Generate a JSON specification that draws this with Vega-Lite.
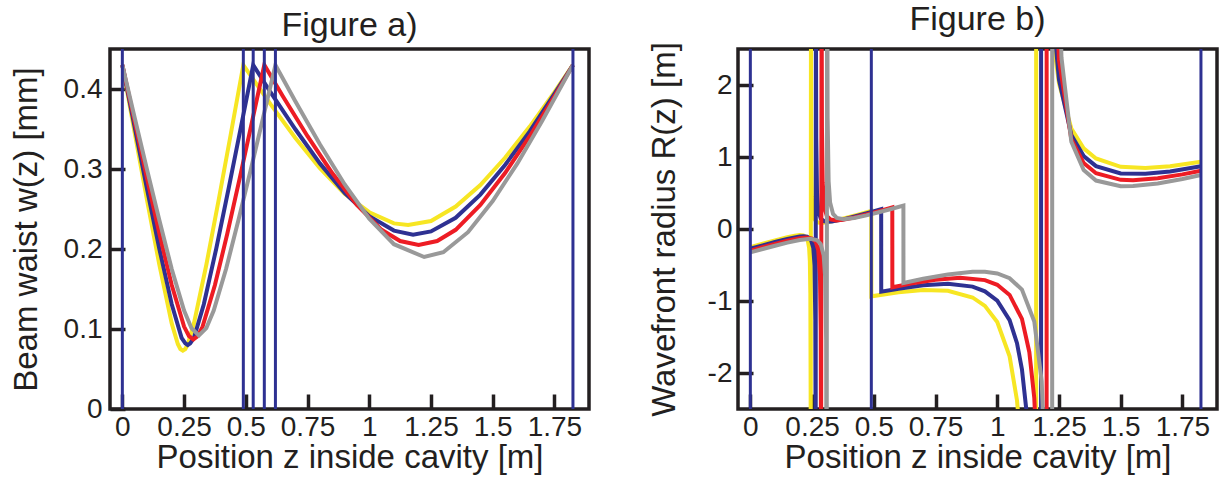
{
  "$schema": "https://vega.github.io/schema/vega-lite/v6.json",
  "padding": {"left": 8, "top": 0, "right": 0, "bottom": 0},
  "background": "white",
  "config": {
    "font": "Liberation Sans",
    "view": {"stroke": "#231f20", "strokeWidth": 3.5},
    "axis": {
      "domain": false, "grid": false, "ticks": true, "offset": -15,
      "tickColor": "#231f20", "tickWidth": 3.5, "tickSize": 15,
      "labelFont": "Liberation Sans", "labelFontSize": 28, "labelColor": "#231f20",
      "titleFont": "Liberation Sans", "titleFontSize": 33, "titleFontWeight": "normal", "titleColor": "#231f20",
      "zindex": 1, "labelPadding": 4, "labelFlush": false, "labelOverlap": false, "titlePadding": 0
    },
    "title": {"font": "Liberation Sans", "fontSize": 34, "fontWeight": "normal", "color": "#231f20", "offset": 5}
  },
  "datasets": {
    "a": [
      {"s":"Y","z":0,"w":0.43},{"s":"Y","z":0.05,"w":0.345},{"s":"Y","z":0.1,"w":0.261},{"s":"Y","z":0.15,"w":0.18},{"s":"Y","z":0.2,"w":0.107},{"s":"Y","z":0.225,"w":0.081},{"s":"Y","z":0.235,"w":0.075},{"s":"Y","z":0.245,"w":0.073},{"s":"Y","z":0.255,"w":0.075},{"s":"Y","z":0.265,"w":0.081},{"s":"Y","z":0.29,"w":0.107},{"s":"Y","z":0.34,"w":0.18},{"s":"Y","z":0.39,"w":0.261},{"s":"Y","z":0.44,"w":0.345},{"s":"Y","z":0.49,"w":0.43},{"s":"Y","z":0.6,"w":0.381},{"s":"Y","z":0.7,"w":0.339},{"s":"Y","z":0.8,"w":0.301},{"s":"Y","z":0.9,"w":0.269},{"s":"Y","z":1.0,"w":0.246},{"s":"Y","z":1.1,"w":0.232},{"s":"Y","z":1.1575,"w":0.23},{"s":"Y","z":1.25,"w":0.235},{"s":"Y","z":1.35,"w":0.253},{"s":"Y","z":1.45,"w":0.28},{"s":"Y","z":1.55,"w":0.314},{"s":"Y","z":1.65,"w":0.353},{"s":"Y","z":1.75,"w":0.396},{"s":"Y","z":1.825,"w":0.43},
      {"s":"B","z":0,"w":0.43},{"s":"B","z":0.05,"w":0.352},{"s":"B","z":0.1,"w":0.275},{"s":"B","z":0.15,"w":0.2},{"s":"B","z":0.2,"w":0.131},{"s":"B","z":0.24,"w":0.089},{"s":"B","z":0.255,"w":0.082},{"s":"B","z":0.265,"w":0.08},{"s":"B","z":0.275,"w":0.082},{"s":"B","z":0.29,"w":0.089},{"s":"B","z":0.33,"w":0.131},{"s":"B","z":0.38,"w":0.2},{"s":"B","z":0.43,"w":0.275},{"s":"B","z":0.48,"w":0.352},{"s":"B","z":0.53,"w":0.43},{"s":"B","z":0.6,"w":0.396},{"s":"B","z":0.7,"w":0.35},{"s":"B","z":0.8,"w":0.307},{"s":"B","z":0.9,"w":0.27},{"s":"B","z":1.0,"w":0.241},{"s":"B","z":1.1,"w":0.223},{"s":"B","z":1.1775,"w":0.218},{"s":"B","z":1.25,"w":0.222},{"s":"B","z":1.35,"w":0.239},{"s":"B","z":1.45,"w":0.268},{"s":"B","z":1.55,"w":0.305},{"s":"B","z":1.65,"w":0.347},{"s":"B","z":1.75,"w":0.394},{"s":"B","z":1.825,"w":0.43},
      {"s":"R","z":0,"w":0.43},{"s":"R","z":0.05,"w":0.359},{"s":"R","z":0.1,"w":0.288},{"s":"R","z":0.15,"w":0.219},{"s":"R","z":0.2,"w":0.155},{"s":"R","z":0.25,"w":0.103},{"s":"R","z":0.27,"w":0.091},{"s":"R","z":0.2875,"w":0.087},{"s":"R","z":0.305,"w":0.091},{"s":"R","z":0.325,"w":0.103},{"s":"R","z":0.375,"w":0.155},{"s":"R","z":0.425,"w":0.219},{"s":"R","z":0.475,"w":0.288},{"s":"R","z":0.525,"w":0.359},{"s":"R","z":0.575,"w":0.43},{"s":"R","z":0.65,"w":0.391},{"s":"R","z":0.75,"w":0.341},{"s":"R","z":0.85,"w":0.295},{"s":"R","z":0.95,"w":0.255},{"s":"R","z":1.05,"w":0.224},{"s":"R","z":1.125,"w":0.21},{"s":"R","z":1.2,"w":0.205},{"s":"R","z":1.275,"w":0.21},{"s":"R","z":1.35,"w":0.224},{"s":"R","z":1.45,"w":0.255},{"s":"R","z":1.55,"w":0.295},{"s":"R","z":1.65,"w":0.341},{"s":"R","z":1.75,"w":0.391},{"s":"R","z":1.825,"w":0.43},
      {"s":"G","z":0,"w":0.43},{"s":"G","z":0.05,"w":0.364},{"s":"G","z":0.1,"w":0.299},{"s":"G","z":0.15,"w":0.236},{"s":"G","z":0.2,"w":0.175},{"s":"G","z":0.25,"w":0.123},{"s":"G","z":0.28,"w":0.101},{"s":"G","z":0.31,"w":0.092},{"s":"G","z":0.34,"w":0.101},{"s":"G","z":0.37,"w":0.123},{"s":"G","z":0.42,"w":0.175},{"s":"G","z":0.47,"w":0.236},{"s":"G","z":0.52,"w":0.299},{"s":"G","z":0.57,"w":0.364},{"s":"G","z":0.62,"w":0.43},{"s":"G","z":0.7,"w":0.385},{"s":"G","z":0.8,"w":0.331},{"s":"G","z":0.9,"w":0.281},{"s":"G","z":1.0,"w":0.238},{"s":"G","z":1.1,"w":0.206},{"s":"G","z":1.2225,"w":0.19},{"s":"G","z":1.3,"w":0.196},{"s":"G","z":1.4,"w":0.221},{"s":"G","z":1.5,"w":0.26},{"s":"G","z":1.6,"w":0.307},{"s":"G","z":1.7,"w":0.36},{"s":"G","z":1.825,"w":0.43}
    ],
    "b": [
      {"s":"Y","z":0,"R":-0.252},{"s":"Y","z":0.05,"R":-0.204},{"s":"Y","z":0.1,"R":-0.157},{"s":"Y","z":0.15,"R":-0.114},{"s":"Y","z":0.18,"R":-0.092},{"s":"Y","z":0.2,"R":-0.085},{"s":"Y","z":0.215,"R":-0.089},{"s":"Y","z":0.225,"R":-0.109},{"s":"Y","z":0.232,"R":-0.15},{"s":"Y","z":0.238,"R":-0.261},{"s":"Y","z":0.241,"R":-0.449},{"s":"Y","z":0.243,"R":-0.893},{"s":"Y","z":0.2442,"R":-2.227},{"s":"Y","z":0.2445,"R":-3.56},{"s":"Y","z":0.2455,"R":3.56},{"s":"Y","z":0.2458,"R":2.227},{"s":"Y","z":0.247,"R":0.893},{"s":"Y","z":0.249,"R":0.449},{"s":"Y","z":0.252,"R":0.261},{"s":"Y","z":0.258,"R":0.15},{"s":"Y","z":0.265,"R":0.109},{"s":"Y","z":0.275,"R":0.089},{"s":"Y","z":0.29,"R":0.085},{"s":"Y","z":0.31,"R":0.092},{"s":"Y","z":0.34,"R":0.114},{"s":"Y","z":0.39,"R":0.157},{"s":"Y","z":0.44,"R":0.204},{"s":"Y","z":0.4899,"R":0.252},{"s":"Y","z":0.4901,"R":-0.935},{"s":"Y","z":0.6,"R":-0.878},{"s":"Y","z":0.7,"R":-0.848},{"s":"Y","z":0.8,"R":-0.857},{"s":"Y","z":0.9,"R":-0.951},{"s":"Y","z":0.95,"R":-1.068},{"s":"Y","z":1.0,"R":-1.292},{"s":"Y","z":1.05,"R":-1.769},{"s":"Y","z":1.08,"R":-2.382},{"s":"Y","z":1.1,"R":-3.164},{"s":"Y","z":1.12,"R":-4.8},{"s":"Y","z":1.157,"R":-50},{"s":"Y","z":1.158,"R":50},{"s":"Y","z":1.2,"R":4.245},{"s":"Y","z":1.23,"R":2.536},{"s":"Y","z":1.25,"R":2.023},{"s":"Y","z":1.3,"R":1.396},{"s":"Y","z":1.35,"R":1.12},{"s":"Y","z":1.4,"R":0.979},{"s":"Y","z":1.5,"R":0.864},{"s":"Y","z":1.6,"R":0.846},{"s":"Y","z":1.7,"R":0.872},{"s":"Y","z":1.825,"R":0.935},
      {"s":"B","z":0,"R":-0.2745},{"s":"B","z":0.05,"R":-0.227},{"s":"B","z":0.1,"R":-0.18},{"s":"B","z":0.15,"R":-0.137},{"s":"B","z":0.2,"R":-0.104},{"s":"B","z":0.215,"R":-0.1},{"s":"B","z":0.23,"R":-0.107},{"s":"B","z":0.245,"R":-0.146},{"s":"B","z":0.255,"R":-0.262},{"s":"B","z":0.26,"R":-0.509},{"s":"B","z":0.263,"R":-1.261},{"s":"B","z":0.264,"R":-2.519},{"s":"B","z":0.2645,"R":-5.04},{"s":"B","z":0.2655,"R":5.04},{"s":"B","z":0.266,"R":2.519},{"s":"B","z":0.267,"R":1.261},{"s":"B","z":0.27,"R":0.509},{"s":"B","z":0.275,"R":0.262},{"s":"B","z":0.285,"R":0.146},{"s":"B","z":0.3,"R":0.107},{"s":"B","z":0.315,"R":0.1},{"s":"B","z":0.33,"R":0.104},{"s":"B","z":0.38,"R":0.137},{"s":"B","z":0.43,"R":0.18},{"s":"B","z":0.48,"R":0.227},{"s":"B","z":0.5299,"R":0.2745},{"s":"B","z":0.5301,"R":-0.871},{"s":"B","z":0.6,"R":-0.829},{"s":"B","z":0.7,"R":-0.781},{"s":"B","z":0.8,"R":-0.762},{"s":"B","z":0.9,"R":-0.8},{"s":"B","z":0.95,"R":-0.865},{"s":"B","z":1.0,"R":-0.994},{"s":"B","z":1.05,"R":-1.265},{"s":"B","z":1.08,"R":-1.585},{"s":"B","z":1.1,"R":-1.949},{"s":"B","z":1.12,"R":-2.579},{"s":"B","z":1.15,"R":-5.3},{"s":"B","z":1.177,"R":-50},{"s":"B","z":1.178,"R":50},{"s":"B","z":1.2,"R":6.47},{"s":"B","z":1.23,"R":2.814},{"s":"B","z":1.25,"R":2.073},{"s":"B","z":1.3,"R":1.306},{"s":"B","z":1.35,"R":1.013},{"s":"B","z":1.4,"R":0.874},{"s":"B","z":1.5,"R":0.772},{"s":"B","z":1.6,"R":0.766},{"s":"B","z":1.7,"R":0.8},{"s":"B","z":1.825,"R":0.871},
      {"s":"R","z":0,"R":-0.3},{"s":"R","z":0.05,"R":-0.252},{"s":"R","z":0.1,"R":-0.206},{"s":"R","z":0.15,"R":-0.163},{"s":"R","z":0.2,"R":-0.128},{"s":"R","z":0.228,"R":-0.119},{"s":"R","z":0.25,"R":-0.132},{"s":"R","z":0.265,"R":-0.179},{"s":"R","z":0.275,"R":-0.295},{"s":"R","z":0.282,"R":-0.647},{"s":"R","z":0.285,"R":-1.414},{"s":"R","z":0.2865,"R":-3.529},{"s":"R","z":0.2885,"R":3.529},{"s":"R","z":0.29,"R":1.414},{"s":"R","z":0.293,"R":0.647},{"s":"R","z":0.3,"R":0.295},{"s":"R","z":0.31,"R":0.179},{"s":"R","z":0.325,"R":0.132},{"s":"R","z":0.347,"R":0.119},{"s":"R","z":0.375,"R":0.128},{"s":"R","z":0.425,"R":0.163},{"s":"R","z":0.475,"R":0.206},{"s":"R","z":0.525,"R":0.252},{"s":"R","z":0.5749,"R":0.3},{"s":"R","z":0.5751,"R":-0.809},{"s":"R","z":0.65,"R":-0.759},{"s":"R","z":0.75,"R":-0.705},{"s":"R","z":0.85,"R":-0.678},{"s":"R","z":0.95,"R":-0.71},{"s":"R","z":1.0,"R":-0.775},{"s":"R","z":1.05,"R":-0.916},{"s":"R","z":1.1,"R":-1.249},{"s":"R","z":1.13,"R":-1.711},{"s":"R","z":1.15,"R":-2.348},{"s":"R","z":1.17,"R":-3.86},{"s":"R","z":1.1995,"R":-50},{"s":"R","z":1.2005,"R":50},{"s":"R","z":1.23,"R":3.86},{"s":"R","z":1.25,"R":2.348},{"s":"R","z":1.3,"R":1.249},{"s":"R","z":1.35,"R":0.916},{"s":"R","z":1.4,"R":0.775},{"s":"R","z":1.5,"R":0.683},{"s":"R","z":1.55,"R":0.678},{"s":"R","z":1.65,"R":0.705},{"s":"R","z":1.75,"R":0.759},{"s":"R","z":1.825,"R":0.809},
      {"s":"G","z":0,"R":-0.325},{"s":"G","z":0.05,"R":-0.278},{"s":"G","z":0.1,"R":-0.232},{"s":"G","z":0.15,"R":-0.189},{"s":"G","z":0.2,"R":-0.152},{"s":"G","z":0.242,"R":-0.136},{"s":"G","z":0.27,"R":-0.155},{"s":"G","z":0.285,"R":-0.209},{"s":"G","z":0.297,"R":-0.368},{"s":"G","z":0.303,"R":-0.666},{"s":"G","z":0.307,"R":-1.54},{"s":"G","z":0.309,"R":-4.61},{"s":"G","z":0.311,"R":4.61},{"s":"G","z":0.313,"R":1.54},{"s":"G","z":0.317,"R":0.666},{"s":"G","z":0.323,"R":0.368},{"s":"G","z":0.335,"R":0.209},{"s":"G","z":0.35,"R":0.155},{"s":"G","z":0.378,"R":0.136},{"s":"G","z":0.42,"R":0.152},{"s":"G","z":0.47,"R":0.189},{"s":"G","z":0.52,"R":0.232},{"s":"G","z":0.57,"R":0.278},{"s":"G","z":0.6199,"R":0.325},{"s":"G","z":0.6201,"R":-0.749},{"s":"G","z":0.7,"R":-0.691},{"s":"G","z":0.8,"R":-0.631},{"s":"G","z":0.9,"R":-0.595},{"s":"G","z":0.95,"R":-0.595},{"s":"G","z":1.0,"R":-0.618},{"s":"G","z":1.05,"R":-0.683},{"s":"G","z":1.1,"R":-0.841},{"s":"G","z":1.15,"R":-1.286},{"s":"G","z":1.18,"R":-2.113},{"s":"G","z":1.2,"R":-3.93},{"s":"G","z":1.222,"R":-50},{"s":"G","z":1.223,"R":50},{"s":"G","z":1.24,"R":5.05},{"s":"G","z":1.26,"R":2.384},{"s":"G","z":1.3,"R":1.213},{"s":"G","z":1.35,"R":0.818},{"s":"G","z":1.4,"R":0.673},{"s":"G","z":1.5,"R":0.595},{"s":"G","z":1.55,"R":0.596},{"s":"G","z":1.65,"R":0.633},{"s":"G","z":1.75,"R":0.694},{"s":"G","z":1.825,"R":0.749}
    ],
    "va": [{"z":0},{"z":0.49},{"z":0.53},{"z":0.575},{"z":0.62},{"z":1.825}],
    "vb": [{"z":0},{"z":0.49},{"z":1.825}]
  },
  "spacing": 55,
  "hconcat": [
    {
      "width": 479, "height": 360,
      "title": {"text": "Figure a)"},
      "layer": [
        {
          "data": {"name": "a"},
          "mark": {"type": "line", "strokeWidth": 4, "clip": true},
          "encoding": {
            "x": {"field": "z", "type": "quantitative", "scale": {"domain": [-0.05, 1.89], "nice": false, "zero": false},
                  "axis": {"title": "Position z inside cavity [m]", "values": [0, 0.25, 0.5, 0.75, 1, 1.25, 1.5, 1.75], "labelExpr": "'' + datum.value"}},
            "y": {"field": "w", "type": "quantitative", "scale": {"domain": [0, 0.45], "nice": false},
                  "axis": {"title": "Beam waist w(z) [mm]", "values": [0, 0.1, 0.2, 0.3, 0.4], "labelExpr": "'' + datum.value", "labelPadding": 8, "titlePadding": 20}},
            "color": {"field": "s", "type": "nominal", "scale": {"domain": ["Y", "B", "R", "G"], "range": ["#f7e623", "#2e3192", "#ed1c24", "#999999"]}, "legend": null}
          }
        },
        {
          "data": {"name": "va"},
          "mark": {"type": "rule", "color": "#2e3192", "strokeWidth": 3},
          "encoding": {"x": {"field": "z", "type": "quantitative"}}
        }
      ]
    },
    {
      "width": 479, "height": 360,
      "title": {"text": "Figure b)"},
      "layer": [
        {
          "data": {"name": "b"},
          "mark": {"type": "line", "strokeWidth": 4, "clip": true},
          "encoding": {
            "x": {"field": "z", "type": "quantitative", "scale": {"domain": [-0.05, 1.89], "nice": false, "zero": false},
                  "axis": {"title": "Position z inside cavity [m]", "values": [0, 0.25, 0.5, 0.75, 1, 1.25, 1.5, 1.75], "labelExpr": "'' + datum.value"}},
            "y": {"field": "R", "type": "quantitative", "scale": {"domain": [-2.5, 2.5], "nice": false, "zero": false},
                  "axis": {"title": "Wavefront radius R(z) [m]", "values": [-2, -1, 0, 1, 2], "labelExpr": "'' + datum.value", "labelPadding": 6, "titlePadding": 26}},
            "color": {"field": "s", "type": "nominal", "scale": {"domain": ["Y", "B", "R", "G"], "range": ["#f7e623", "#2e3192", "#ed1c24", "#999999"]}, "legend": null}
          }
        },
        {
          "data": {"name": "vb"},
          "mark": {"type": "rule", "color": "#2e3192", "strokeWidth": 3},
          "encoding": {"x": {"field": "z", "type": "quantitative"}}
        },
        {
          "mark": {"type": "rule", "color": "#231f20", "strokeWidth": 3.5},
          "encoding": {"y": {"datum": 0}}
        }
      ]
    }
  ]
}
